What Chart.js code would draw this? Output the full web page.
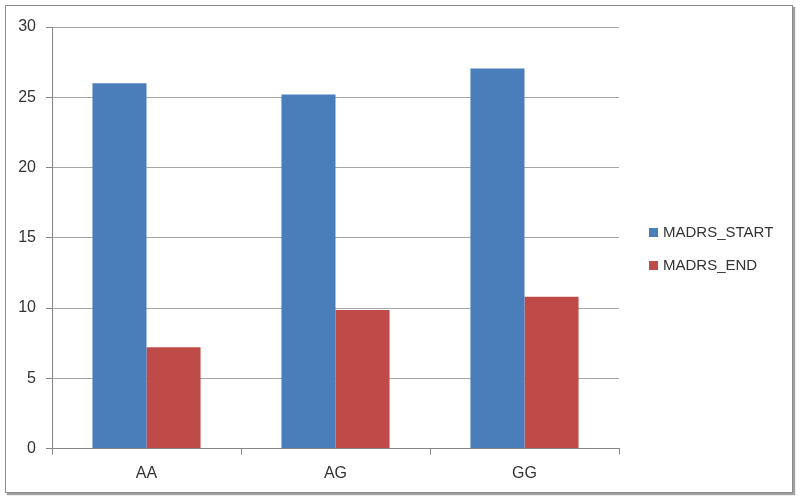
<!DOCTYPE html>
<html>
<head>
<meta charset="utf-8">
<script src="https://cdn.jsdelivr.net/npm/chart.js@4"></script>
<style>
    body { margin: 0; background: #fff; }
    #wrap { position: relative; width: 800px; height: 500px; }
    #frame {
        position: absolute; left: 5px; top: 5px; width: 786px; height: 486px;
        border: 1px solid #8c8c8c; box-shadow: 2px 2px 1px #a0a0a0;
    }
    #chart { position: absolute; left: 0; top: 0; }
    #legend {
        position: absolute; left: 649px; top: 222px;
        font-family: "Liberation Sans", sans-serif; font-size: 15px; color: #333;
    }
    .item { height: 33px; line-height: 20px; white-space: nowrap; }
    .box { display: inline-block; width: 9px; height: 9px; margin-right: 5px; vertical-align: 0px; }
</style>
</head>
<body>
<div id="wrap">
    <div id="frame"></div>
    <canvas id="chart" width="800" height="500"></canvas>
    <div id="legend"></div>
</div>
<script>
const categories = ["AA", "AG", "GG"];
const seriesNames = ["MADRS_START", "MADRS_END"];
const madrsStart = [26.0, 25.2, 27.05];
const madrsEnd = [7.2, 9.85, 10.8];
const yTicks = [0, 5, 10, 15, 20, 25, 30];
const colors = ['#4A7EBB', '#BE4B48'];

Chart.defaults.font.family = '"Liberation Sans", sans-serif';
Chart.defaults.font.size = 16;
Chart.defaults.color = '#333';

const ctx = document.getElementById('chart').getContext('2d');
new Chart(ctx, {
    type: 'bar',
    data: {
        labels: categories,
        datasets: [
            { label: seriesNames[0], data: madrsStart, backgroundColor: colors[0] },
            { label: seriesNames[1], data: madrsEnd, backgroundColor: colors[1] }
        ]
    },
    options: {
        responsive: false,
        animation: false,
        datasets: { bar: { categoryPercentage: 0.572, barPercentage: 1.0 } },
        layout: { padding: { left: 0, top: 27, right: 181, bottom: 0 } },
        plugins: { legend: { display: false }, tooltip: { enabled: false } },
        scales: {
            x: {
                afterFit: s => { s.height = 51.5; },
                grid: { drawOnChartArea: false, tickLength: 6, color: '#868686' },
                border: { color: '#868686' },
                ticks: { padding: 9 }
            },
            y: {
                min: 0,
                max: 30,
                afterFit: s => { s.width = 52; },
                afterBuildTicks: s => { s.ticks = yTicks.map(v => ({ value: v })); },
                grid: { color: '#a6a6a6', tickLength: 6, tickColor: '#868686' },
                border: { color: '#868686' },
                ticks: { padding: 10 }
            }
        }
    }
});

// legend as html text
const legend = document.getElementById('legend');
seriesNames.forEach((name, i) => {
    const div = document.createElement('div');
    div.className = 'item';
    const box = document.createElement('span');
    box.className = 'box';
    box.style.background = colors[i];
    div.appendChild(box);
    div.appendChild(document.createTextNode(name));
    legend.appendChild(div);
});
</script>
</body>
</html>
